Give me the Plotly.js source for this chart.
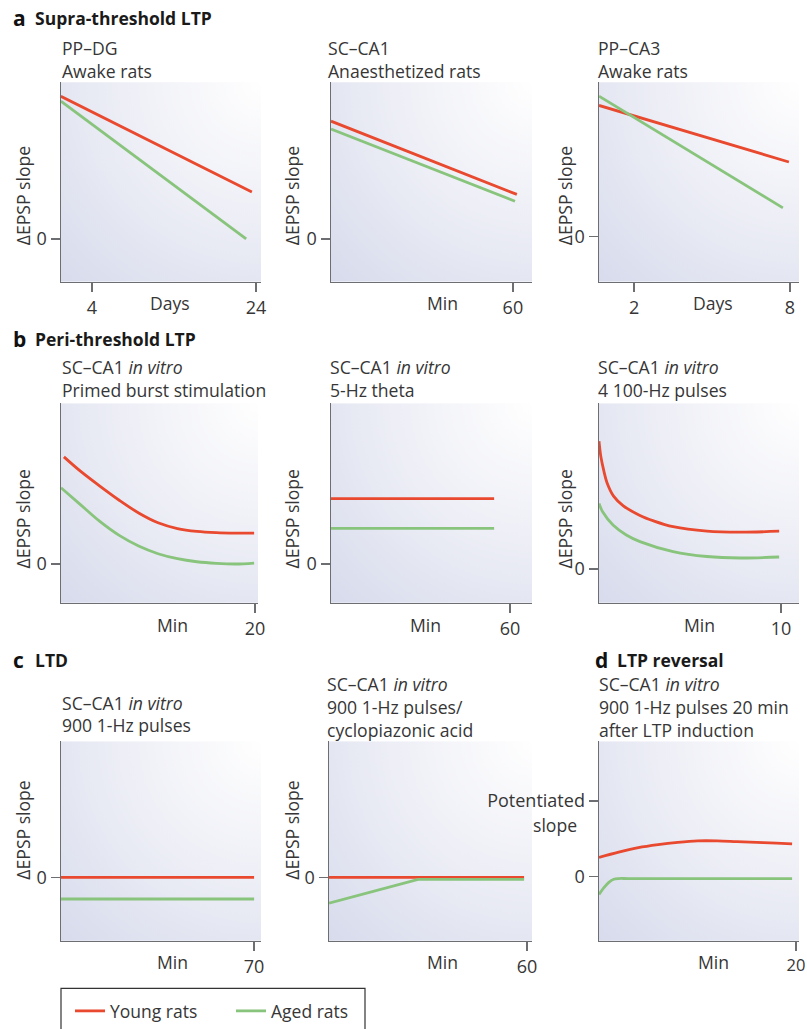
<!DOCTYPE html>
<html>
<head>
<meta charset="utf-8">
<script src="https://cdn.plot.ly/plotly-3.0.1.min.js"></script>
<style>html,body{margin:0;padding:0;background:#fff;}#chart{width:807px;height:1029px;}</style>
</head>
<body>
<div id="chart"></div>
<script>
// ---------- data ----------
// a: Supra-threshold LTP
const a1Days = [0.2, 23.5];
const a1Young = [0.91, 0.30];
const a1DaysAged = [0.2, 22.8];
const a1Aged = [0.88, 0.0];

const a2Min = [0, 61.3];
const a2Young = [0.752, 0.284];
const a2MinAged = [0, 60.7];
const a2Aged = [0.701, 0.240];

const a3Days = [0.65, 7.96];
const a3Young = [0.85, 0.484];
const a3DaysAged = [0.65, 7.73];
const a3Aged = [0.91, 0.187];

// b: Peri-threshold LTP
const b1Min = [0.3, 2, 4, 6, 8, 10, 12, 14, 16, 18, 19.9];
const b1Young = [0.667, 0.578, 0.485, 0.397, 0.318, 0.257, 0.221, 0.203, 0.195, 0.192, 0.192];
const b1MinAged = [0, 2, 4, 6, 8, 10, 12, 14, 16, 18, 19.9];
const b1Aged = [0.475, 0.37, 0.265, 0.178, 0.112, 0.064, 0.033, 0.014, 0.004, 0.0, 0.006];

const b2Min = [0, 54.7];
const b2Young = [0.407, 0.407];
const b2Aged = [0.222, 0.222];

const b3Min = [0, 0.1, 0.25, 0.44, 0.8, 1.32, 2.25, 3, 4.07, 5.93, 7.75, 9.9];
const b3Young = [0.772, 0.68, 0.60, 0.521, 0.44, 0.383, 0.323, 0.29, 0.255, 0.228, 0.222, 0.228];
const b3MinAged = [0, 0.2, 0.77, 1.5, 2.25, 4.07, 5.93, 7.75, 9.9];
const b3Aged = [0.395, 0.345, 0.265, 0.205, 0.165, 0.105, 0.075, 0.066, 0.072];

// c: LTD
const c1Min = [0, 70];
const c1Young = [0, 0];
const c1Aged = [-0.16, -0.16];

const c2Min = [0, 59.1];
const c2Young = [0, 0];
const c2MinAged = [0, 27, 59.1];
const c2Aged = [-0.19, -0.015, -0.015];

// d: LTP reversal
const dMin = [0, 2, 4, 6, 8, 10, 12, 14, 16, 18, 19.6];
const dYoung = [0.25, 0.32, 0.38, 0.42, 0.45, 0.47, 0.47, 0.46, 0.45, 0.44, 0.43];
const dMinAged = [0, 0.5, 1, 1.5, 2, 3, 19.6];
const dAged = [-0.24, -0.15, -0.08, -0.04, -0.03, -0.03, -0.03];

// tick values / labels
const a1Ticks = [4, 24];
const a2Ticks = [60];
const a3Ticks = [2, 8];
const b1Ticks = [20];
const b2Ticks = [60];
const b3Ticks = [10];
const c1Ticks = [70];
const c2Ticks = [60];
const dTicks = [20];
const seriesNames = ['Young rats', 'Aged rats'];

// ---------- styling / layout ----------
const W = 807, H = 1029;
const fx = p => p / W;
const fy = p => 1 - p / H;
const FONT = 'Open Sans, Noto Sans, sans-serif';
const TXT = '#363636';
const RED = '#e8492f';
const GREEN = '#88c47c';
const AX = '#6d6e71';
const FS = 17.6;

const series = [
  [a1Days, a1Young, a1DaysAged, a1Aged],
  [a2Min, a2Young, a2MinAged, a2Aged],
  [a3Days, a3Young, a3DaysAged, a3Aged],
  [b1Min, b1Young, b1MinAged, b1Aged],
  [b2Min, b2Young, b2Min, b2Aged],
  [b3Min, b3Young, b3MinAged, b3Aged],
  [c1Min, c1Young, c1Min, c1Aged],
  [c2Min, c2Young, c2MinAged, c2Aged],
  [dMin, dYoung, dMinAged, dAged]
];
const ticks = [a1Ticks, a2Ticks, a3Ticks, b1Ticks, b2Ticks, b3Ticks, c1Ticks, c2Ticks, dTicks];
// pixel boxes [left, right, top, bottom]
const boxes = [
  [61, 261, 83, 284], [331, 532, 83, 284], [599, 799, 83, 284],
  [61, 258, 407, 608], [331, 532, 407, 608], [599, 799, 407, 608],
  [61, 261, 748, 949], [329, 532, 748, 949], [599, 799, 748, 949]
];
const xRanges = [[0.22, 24.61], [0, 66.3], [0.65, 8.35], [0, 20.3], [0, 67.4], [0, 10.99], [0, 72.5], [0, 61.5], [0, 20.3]];
const yRanges = [[-0.272, 1], [-0.272, 1], [-0.29, 1], [-0.241, 1], [-0.241, 1], [-0.204, 1], [-0.467, 1], [-0.467, 1], [-0.855, 1.79]];
const smooth = [false, false, false, true, false, true, false, false, true];

// gradient background image
const cv = document.createElement('canvas');
cv.width = 200; cv.height = 200;
const ctx = cv.getContext('2d');
const g = ctx.createRadialGradient(200, 0, 0, 200, 0, 285);
g.addColorStop(0, '#ffffff');
g.addColorStop(0.45, '#eff0f7');
g.addColorStop(1, '#d7dbec');
ctx.fillStyle = g;
ctx.fillRect(0, 0, 200, 200);
const bgURL = cv.toDataURL('image/png');

const data = [];
const layout = {
  width: W, height: H,
  margin: {l: 0, r: 0, t: 0, b: 0},
  paper_bgcolor: '#ffffff',
  plot_bgcolor: 'rgba(0,0,0,0)',
  font: {family: FONT, color: TXT, size: FS},
  showlegend: true,
  legend: {
    orientation: 'h', x: fx(70), xanchor: 'left', y: fy(1002), yanchor: 'top',
    bgcolor: 'rgba(0,0,0,0)', borderwidth: 0,
    font: {family: FONT, size: 17.5, color: TXT},
    entrywidth: 116, entrywidthmode: 'pixels', tracegroupgap: 0
  },
  images: [], annotations: [], shapes: []
};

boxes.forEach((b, i) => {
  const n = i + 1;
  const xa = 'x' + (n === 1 ? '' : n), ya = 'y' + (n === 1 ? '' : n);
  const [xs, ys, xs2, ys2] = series[i];
  const lineShape = smooth[i] ? 'spline' : 'linear';
  data.push({x: xs, y: ys, xaxis: xa, yaxis: ya, type: 'scatter', mode: 'lines',
    name: seriesNames[0], legendgroup: 'young', showlegend: i === 0,
    line: {color: RED, width: 2.8, shape: lineShape, smoothing: 1}, hoverinfo: 'skip'});
  data.push({x: xs2, y: ys2, xaxis: xa, yaxis: ya, type: 'scatter', mode: 'lines',
    name: seriesNames[1], legendgroup: 'aged', showlegend: i === 0,
    line: {color: GREEN, width: 2.8, shape: lineShape, smoothing: 1}, hoverinfo: 'skip'});
  const common = {showgrid: false, zeroline: false, showline: true, linecolor: AX, linewidth: 1.5,
    ticks: 'outside', ticklen: 9, tickcolor: AX, tickwidth: 1.5,
    tickfont: {family: FONT, size: 18, color: TXT}, fixedrange: true};
  layout['xaxis' + (n === 1 ? '' : n)] = Object.assign({}, common, {
    domain: [fx(b[0]), fx(b[1])], anchor: ya, range: xRanges[i],
    tickmode: 'array', tickvals: ticks[i], ticktext: ticks[i].map(String),
    tickfont: {family: FONT, size: i === 8 ? 16.5 : 18, color: TXT}
  });
  const yv = i === 8 ? [0, 1] : [0];
  const yt = i === 8 ? ['0', 'Potentiated'] : ['0'];
  layout['yaxis' + (n === 1 ? '' : n)] = Object.assign({}, common, {
    domain: [fy(b[3]), fy(b[2])], anchor: xa, range: yRanges[i],
    tickmode: 'array', tickvals: yv, ticktext: yt
  });
  layout.images.push({source: bgURL, xref: 'paper', yref: 'paper',
    x: fx(b[0]), y: fy(b[2]), sizex: fx(b[1]) - fx(b[0]), sizey: (b[3] - b[2]) / H,
    sizing: 'stretch', layer: 'below', xanchor: 'left', yanchor: 'top'});
});

function ann(text, x, y, opts) {
  layout.annotations.push(Object.assign({text: text, xref: 'paper', yref: 'paper', x: fx(x), y: fy(y),
    xanchor: 'left', yanchor: 'middle', showarrow: false,
    font: {family: FONT, size: FS, color: TXT}}, opts || {}));
}
// section headings
const boldFont = {family: FONT, size: 17.5, color: '#1a1a1a'};
const letterFont = {family: FONT, size: 21, color: '#111'};
ann('<b>a</b>', 11, 18, {font: letterFont});
ann('<b>Supra-threshold LTP</b>', 33, 18, {font: boldFont});
ann('<b>b</b>', 11, 342, {font: letterFont});
ann('<b>Peri-threshold LTP</b>', 33, 342, {font: boldFont});
ann('<b>c</b>', 11, 666, {font: letterFont});
ann('<b>LTD</b>', 33, 666, {font: boldFont});
ann('<b>d</b>', 593, 666, {font: letterFont});
ann('<b>LTP reversal</b>', 615, 666, {font: boldFont});

// panel subtitles
ann('PP–DG', 60, 48); ann('Awake rats', 60, 72);
ann('SC–CA1', 326, 48); ann('Anaesthetized rats', 326, 72);
ann('PP–CA3', 596, 48); ann('Awake rats', 596, 72);
ann('SC–CA1 <i>in vitro</i>', 60, 370); ann('Primed burst stimulation', 60, 393);
ann('SC–CA1 <i>in vitro</i>', 328, 370); ann('5-Hz theta', 328, 393);
ann('SC–CA1 <i>in vitro</i>', 596, 370); ann('4 100-Hz pulses', 596, 393);
ann('SC–CA1 <i>in vitro</i>', 60, 709); ann('900 1-Hz pulses', 60, 731);
ann('SC–CA1 <i>in vitro</i>', 325, 690); ann('900 1-Hz pulses/', 325, 713); ann('cyclopiazonic acid', 325, 736);
ann('SC–CA1 <i>in vitro</i>', 597, 690); ann('900 1-Hz pulses 20 min', 597, 713); ann('after LTP induction', 597, 736);

// y titles
[[23, 198], [292, 198], [565, 198], [23, 524], [292, 524], [565, 524], [23, 838], [292, 838]].forEach(p => {
  ann('ΔEPSP slope', p[0], p[1], {textangle: -90, xanchor: 'center'});
});
ann('slope', 579, 832, {xanchor: 'right'});

// x titles
[['Days', 170, 306], ['Min', 442, 306], ['Days', 713, 306],
 ['Min', 172, 631], ['Min', 425, 631], ['Min', 699, 631],
 ['Min', 172, 970], ['Min', 442, 970], ['Min', 713, 970]].forEach(t => {
  ann(t[0], t[1], t[2], {xanchor: 'center'});
});

// legend frame
layout.shapes.push({type: 'rect', xref: 'paper', yref: 'paper', x0: fx(61), x1: fx(365), y0: fy(1045), y1: fy(997),
  line: {color: '#333', width: 1.2}, fillcolor: 'rgba(0,0,0,0)'});

Plotly.newPlot('chart', data, layout, {staticPlot: true, displayModeBar: false});
</script>
</body>
</html>
